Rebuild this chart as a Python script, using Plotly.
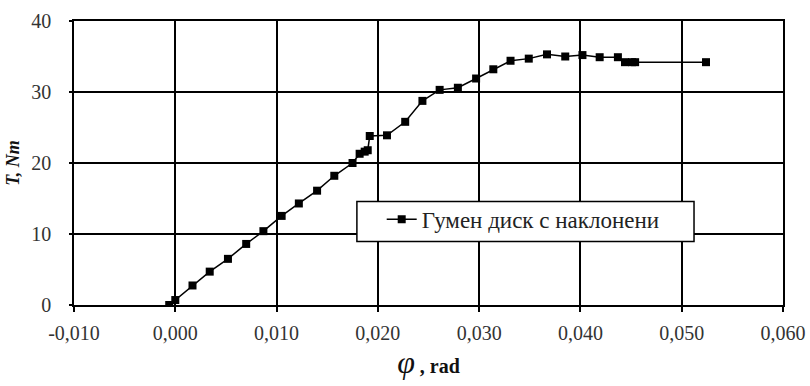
import plotly.graph_objects as go

phi = [-0.0006, 0.0000, 0.0017, 0.0034, 0.0052, 0.0070, 0.0087, 0.0105, 0.0122, 0.0140,
       0.0157, 0.0175, 0.0182, 0.0187, 0.0190, 0.0192, 0.0209, 0.0227, 0.0244, 0.0261,
       0.0279, 0.0297, 0.0314, 0.0331, 0.0349, 0.0367, 0.0385, 0.0402, 0.0419, 0.0437,
       0.0444, 0.0451, 0.0454, 0.0524]
torque = [0.0, 0.7, 2.75, 4.7, 6.5, 8.6, 10.4, 12.55, 14.3, 16.1,
          18.2, 20.0, 21.3, 21.6, 21.8, 23.8, 23.9, 25.8, 28.75, 30.3,
          30.6, 31.9, 33.2, 34.4, 34.7, 35.3, 35.0, 35.2, 34.9, 34.9,
          34.2, 34.2, 34.2, 34.2]
series_name = "Гумен диск с наклонени"
x_ticks = [-0.010, 0.000, 0.010, 0.020, 0.030, 0.040, 0.050, 0.060]
x_labels = ["-0,010", "0,000", "0,010", "0,020", "0,030", "0,040", "0,050", "0,060"]
y_ticks = [0, 10, 20, 30, 40]

FONT = "Liberation Serif"

fig = go.Figure()
fig.add_trace(go.Scatter(
    x=phi, y=torque, mode="lines+markers", name=series_name,
    line=dict(color="black", width=1.5),
    marker=dict(symbol="square", size=8, color="black"),
))

# legend frame
fig.add_shape(type="rect", xref="paper", yref="paper",
              x0=0.399, x1=0.8745, y0=0.2235, y1=0.364,
              fillcolor="white", line=dict(color="black", width=1.5), layer="above")

fig.update_layout(
    width=810, height=386,
    margin=dict(l=74, r=27, t=21, b=81),
    paper_bgcolor="white", plot_bgcolor="white",
    font=dict(family=FONT, size=20, color="#333"),
    showlegend=True,
    legend=dict(
        x=0.434, y=0.302, xanchor="left", yanchor="middle",
        bgcolor="rgba(0,0,0,0)", borderwidth=0,
        font=dict(family=FONT, size=23, color="#222"),
    ),
)
fig.update_xaxes(
    range=[-0.010, 0.060], tickvals=x_ticks, ticktext=x_labels,
    showgrid=True, gridcolor="black", gridwidth=1.6,
    showline=True, linecolor="black", linewidth=1.6, mirror=True,
    ticks="outside", ticklen=5, tickcolor="black", tickwidth=1.5,
    ticklabelstandoff=4, automargin=False,
    zeroline=False,
    title=dict(text="<i><span style='font-size:32px'>φ</span></i><b> , rad</b>      ",
               font=dict(family=FONT, size=20, color="#111"), standoff=10),
)
fig.update_yaxes(
    range=[0, 40], tickvals=y_ticks,
    showgrid=True, gridcolor="black", gridwidth=1.6,
    showline=True, linecolor="black", linewidth=1.6, mirror=True,
    ticks="outside", ticklen=3, tickcolor="black", tickwidth=1.5,
    ticklabelstandoff=14, automargin=False,
    zeroline=False,
    title=dict(text="<b><i>T, Nm</i></b>", font=dict(family=FONT, size=18, color="#111"), standoff=7),
)

fig.write_html("out.html")
